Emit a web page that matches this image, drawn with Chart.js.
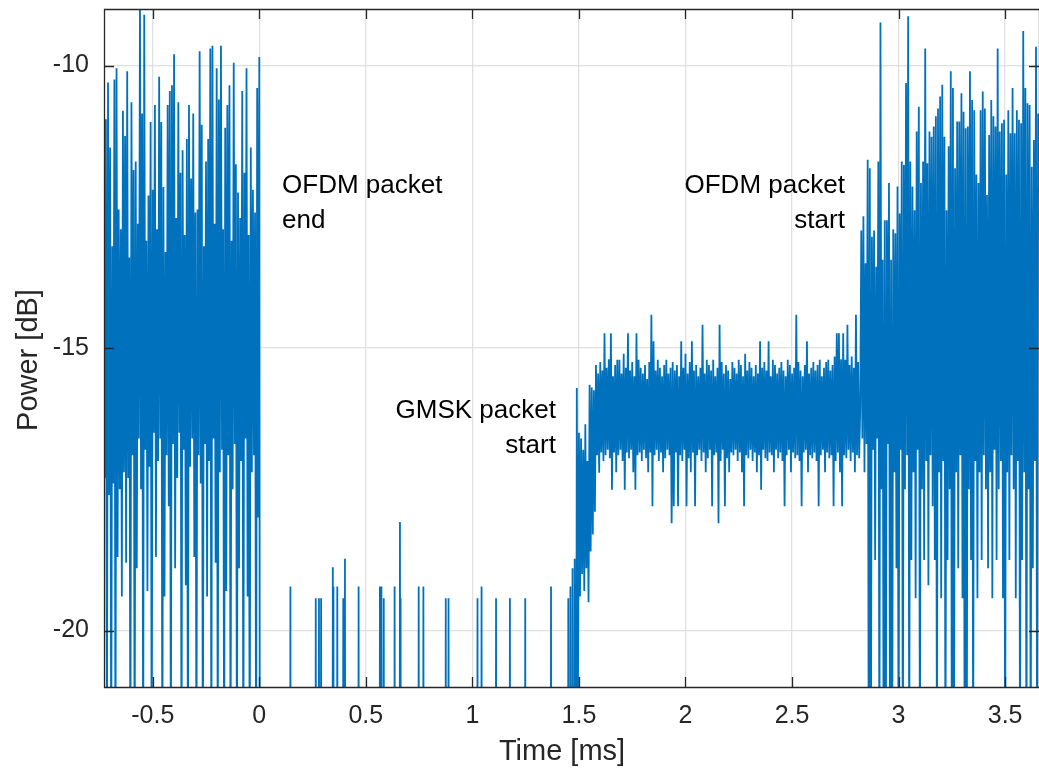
<!DOCTYPE html>
<html>
<head>
<meta charset="utf-8">
<title>Power vs time</title>
<script src="https://cdn.jsdelivr.net/npm/chart.js@4.4.1/dist/chart.umd.min.js"></script>
<style>
  html, body { margin: 0; padding: 0; background: #fff; }
  canvas { display: block; }
</style>
</head>
<body>
<canvas id="powerChart" width="1039" height="770"></canvas>
<script>
// sample period of the capture (ms)
const sampleStep = 0.005;

// tail of the previous OFDM packet, last sample at t = 0
const ofdmEndDb = [
  -17.3, -10.95, -23, -10.3, -17.6, -11.45, -23, -13.2, -17.4, -10.25, -23, -10.05,
  -18.7, -12.55, -17.5, -12.9, -19.4, -10.8, -17.2, -11.25, -18.8, -10.1, -17.3, -13.4,
  -23, -10.65, -16.9, -11.85, -23, -11.7, -18.9, -12.8, -16.6, -8.9, -17.5, -10.85,
  -23, -9.1, -16.8, -13.1, -19.3, -12.3, -17.1, -11.0, -23, -12.2, -16.5, -10.7,
  -18.7, -12.9, -17.0, -10.2, -16.6, -11.0, -23, -12.15, -19.4, -13.3, -16.9, -10.7,
  -17.8, -10.45, -23, -10.35, -16.7, -9.8, -18.9, -12.7, -17.3, -10.65, -16.5, -11.9,
  -23, -11.5, -16.8, -13.0, -19.2, -11.3, -23, -10.7, -17.1, -12.0, -16.6, -10.85,
  -18.7, -12.6, -23, -12.55, -16.9, -9.75, -17.4, -11.05, -23, -13.2, -16.7, -11.7,
  -19.4, -11.3, -17.0, -9.7, -23, -9.65, -16.6, -12.8, -18.8, -10.05, -23, -10.6,
  -17.2, -9.65, -16.8, -12.9, -23, -11.1, -19.3, -10.7, -16.9, -10.35, -23, -13.1,
  -17.5, -9.95, -16.7, -11.75, -23, -12.25, -18.9, -12.7, -17.0, -10.45, -23, -11.9,
  -16.6, -10.05, -19.4, -13.0, -23, -11.45, -17.2, -12.2, -16.9, -12.6, -23, -10.4,
  -18.0, -9.85
];

// quiet part between packets: single samples above the noise floor
const noiseFloorDb = -40;
const quietTimes = [
  0.146, 0.265, 0.280, 0.290, 0.345, 0.348, 0.366, 0.394, 0.402, 0.466, 0.566, 0.573, 0.584,
  0.635, 0.660, 0.663, 0.748, 0.770, 0.875, 0.888, 1.024, 1.043, 1.111, 1.176, 1.248, 1.369
];
const quietDb = [
  -19.22, -19.43, -19.43, -19.43, -18.88, -19.22, -19.22, -19.43, -18.73, -19.22, -19.22, -19.22, -19.43,
  -19.22, -18.08, -19.43, -19.22, -19.22, -19.43, -19.43, -19.43, -19.22, -19.43, -19.43, -19.43, -19.22
];

// GMSK packet: ramp-up then body
const gmskStartTime = 1.445;
const gmskDb = [
  -40, -19.43, -40, -19.22, -40, -18.9, -40, -18.73, -30, -15.71, -21.5, -16.5, -19.4, -16.6,
  -19.0, -16.8, -19.3, -16.35, -18.9, -17.0, -19.5, -15.65, -18.6, -15.7, -18.3, -15.75, -17.9,
  -15.3, -16.9, -15.45, -17.21, -15.25, -16.85, -15.4, -17.0, -14.74, -16.9, -15.35, -16.8,
  -15.2, -16.95, -14.74, -17.51, -15.5, -16.85, -15.3, -17.2, -15.21, -16.9, -15.21, -16.8,
  -15.45, -17.0, -15.1, -17.51, -15.35, -16.85, -14.74, -16.95, -15.4, -16.8, -15.25, -17.2,
  -15.5, -17.51, -14.74, -16.9, -15.21, -16.85, -15.35, -17.0, -15.45, -16.8, -15.3, -16.95,
  -15.55, -17.2, -15.25, -16.85, -14.41, -17.8, -14.88, -16.9, -15.4, -16.8, -15.21, -17.0,
  -15.35, -16.85, -15.5, -17.2, -15.3, -16.95, -15.21, -16.8, -15.45, -16.9, -15.35, -18.1,
  -15.25, -17.8, -15.4, -16.85, -15.3, -17.8, -15.5, -16.9, -14.88, -17.0, -15.35, -16.8,
  -15.1, -17.8, -15.45, -16.95, -15.25, -17.2, -14.88, -16.85, -15.4, -17.8, -15.3, -16.9,
  -15.5, -16.8, -15.35, -17.0, -14.59, -16.85, -15.45, -17.2, -15.21, -16.95, -15.3, -16.8,
  -15.4, -17.8, -15.21, -16.9, -15.5, -16.85, -15.35, -18.1, -14.59, -17.0, -15.25, -16.8,
  -15.45, -17.8, -15.3, -16.95, -15.4, -17.2, -15.55, -16.85, -15.25, -16.9, -15.35, -16.8,
  -15.45, -17.0, -15.21, -16.85, -15.3, -17.2, -15.5, -17.8, -15.1, -16.9, -15.4, -16.95,
  -15.25, -16.8, -15.35, -17.0, -15.5, -16.85, -15.3, -17.2, -15.45, -16.9, -14.88, -17.51,
  -15.35, -16.8, -15.25, -16.95, -15.4, -17.0, -14.88, -16.85, -15.5, -16.9, -15.21, -17.2,
  -15.3, -16.8, -15.45, -16.95, -15.35, -16.85, -15.25, -17.0, -15.4, -17.8, -15.5, -16.9,
  -15.21, -16.8, -15.3, -17.2, -15.45, -16.85, -15.35, -16.95, -14.41, -16.9, -15.25, -17.0,
  -15.4, -17.8, -15.5, -16.85, -15.3, -16.8, -14.88, -17.2, -15.45, -16.9, -15.35, -16.95,
  -15.25, -16.85, -15.4, -17.0, -15.3, -17.8, -15.21, -16.9, -15.5, -16.8, -15.35, -17.2,
  -15.25, -16.85, -15.21, -16.95, -15.4, -16.9, -15.3, -17.8, -15.15, -17.0, -14.74, -16.85,
  -14.74, -17.2, -15.2, -17.8, -14.74, -16.9, -15.21, -16.95, -14.59, -16.8, -15.3, -17.0,
  -15.15, -16.85, -15.35, -17.2, -14.41, -16.9, -15.25, -16.95
];

// start of the next OFDM packet
const ofdmStartTime = 2.82;
const ofdmStartDb = [
  -16.1, -12.92, -16.6, -12.67, -17.2, -13.5, -16.7, -11.67, -23, -11.82, -23, -13.03,
  -16.8, -12.92, -18.75, -13.56, -16.6, -11.7, -23, -9.24, -17.5, -13.44, -23, -12.74,
  -23, -12.74, -16.7, -12.08, -23, -13.44, -23, -12.9, -17.2, -12.97, -18.9, -12.14,
  -23, -12.62, -16.8, -11.7, -23, -11.76, -17.5, -10.31, -16.9, -9.13, -23, -11.7,
  -18.75, -12.14, -17.2, -12.56, -19.43, -11.17, -16.8, -10.73, -23, -12.08, -17.5, -11.7,
  -18.75, -9.7, -17.0, -11.73, -19.2, -11.17, -16.9, -11.26, -17.8, -11.08, -18.75, -10.9,
  -23, -10.76, -17.2, -10.55, -19.43, -10.34, -17.0, -11.26, -23, -12.56, -18.75, -11.43,
  -17.5, -10.1, -23, -10.4, -23, -11.82, -17.2, -10.99, -18.9, -10.99, -16.9, -10.49,
  -19.43, -10.82, -23, -11.11, -23, -11.08, -17.5, -10.1, -18.75, -10.61, -23, -10.79,
  -17.0, -11.93, -19.43, -12.08, -17.2, -10.79, -18.75, -10.46, -16.9, -10.76, -17.5, -12.29,
  -18.9, -11.23, -17.2, -10.61, -19.43, -10.9, -16.8, -11.08, -18.75, -9.7, -17.5, -11.17,
  -17.0, -11.02, -19.43, -10.96, -23, -11.93, -17.2, -10.79, -18.75, -11.2, -16.9, -10.4,
  -17.5, -11.2, -19.43, -10.79, -17.0, -10.96, -23, -11.02, -18.75, -9.39, -17.2, -10.4,
  -23, -10.67, -17.5, -10.7, -23, -11.79, -18.9, -11.32, -17.0, -9.67, -23, -10.85
];

const xTicks = [-0.5, 0, 0.5, 1, 1.5, 2, 2.5, 3, 3.5];
const yTicks = [-20, -15, -10];

const notes = [
  { lines: ["OFDM packet", "end"], x: 0.107, y: -12.25, align: "left" },
  { lines: ["GMSK packet", "start"], x: 1.392, y: -16.24, align: "right" },
  { lines: ["OFDM packet", "start"], x: 2.748, y: -12.25, align: "right" },
];

const fontFamily = '"Liberation Sans", Arial, Helvetica, sans-serif';
const axisColor = "#262626";

// put every segment on one time axis
const points = [];
ofdmEndDb.forEach((v, i) => {
  points.push({ x: -(ofdmEndDb.length - 1 - i) * sampleStep, y: v });
});
points.push({ x: sampleStep, y: noiseFloorDb });
quietTimes.forEach((t, i) => {
  points.push({ x: t - sampleStep, y: noiseFloorDb });
  points.push({ x: t, y: quietDb[i] });
  points.push({ x: t + sampleStep, y: noiseFloorDb });
});
gmskDb.forEach((v, i) => points.push({ x: gmskStartTime + i * sampleStep, y: v }));
ofdmStartDb.forEach((v, i) => points.push({ x: ofdmStartTime + i * sampleStep, y: v }));

// box, inward ticks, axis titles and the text notes
const framePlugin = {
  id: "frame",
  afterDraw(chart) {
    const { ctx, chartArea: a } = chart;
    const xs = chart.scales.x;
    const ys = chart.scales.y;
    ctx.save();
    ctx.strokeStyle = axisColor;
    ctx.lineWidth = 1.3;
    ctx.beginPath();
    ctx.rect(a.left + 0.5, a.top + 0.5, a.right - a.left, a.bottom - a.top);
    xTicks.forEach((v) => {
      const px = Math.round(xs.getPixelForValue(v)) + 0.5;
      ctx.moveTo(px, a.bottom);
      ctx.lineTo(px, a.bottom - 10);
      ctx.moveTo(px, a.top);
      ctx.lineTo(px, a.top + 10);
    });
    yTicks.forEach((v) => {
      const py = Math.round(ys.getPixelForValue(v)) + 0.5;
      ctx.moveTo(a.left, py);
      ctx.lineTo(a.left + 10, py);
      ctx.moveTo(a.right, py);
      ctx.lineTo(a.right - 10, py);
    });
    ctx.stroke();

    ctx.fillStyle = axisColor;
    ctx.font = "29px " + fontFamily;
    ctx.textAlign = "center";
    ctx.textBaseline = "alphabetic";
    ctx.fillText("Time [ms]", 562, 760);
    ctx.save();
    ctx.translate(37, 360);
    ctx.rotate(-Math.PI / 2);
    ctx.fillText("Power [dB]", 0, 0);
    ctx.restore();

    ctx.fillStyle = "#000";
    ctx.font = "26px " + fontFamily;
    notes.forEach((n) => {
      ctx.textAlign = n.align;
      const px = xs.getPixelForValue(n.x);
      const py = ys.getPixelForValue(n.y);
      n.lines.forEach((line, k) => ctx.fillText(line, px, py + k * 35));
    });
    ctx.restore();
  },
};

new Chart(document.getElementById("powerChart"), {
  type: "line",
  data: {
    datasets: [
      {
        data: points,
        borderColor: "#0072BD",
        borderWidth: 1.8,
        pointRadius: 0,
        tension: 0,
        fill: false,
      },
    ],
  },
  options: {
    responsive: false,
    animation: false,
    events: [],
    layout: { padding: { top: 9, right: 0, bottom: 0, left: 0 } },
    plugins: { legend: { display: false }, tooltip: { enabled: false } },
    scales: {
      x: {
        type: "linear",
        min: -0.7288,
        max: 3.659,
        afterBuildTicks: (scale) => {
          scale.ticks = xTicks.map((v) => ({ value: v }));
        },
        afterFit: (scale) => {
          scale.height = 83;
          scale.paddingLeft = 0;
          scale.paddingRight = 0;
        },
        ticks: {
          color: axisColor,
          font: { family: fontFamily, size: 25 },
          padding: 14,
          maxRotation: 0,
          callback: (v) => String(v),
        },
        grid: { color: "#e0e0e0", lineWidth: 1.3, drawTicks: false },
        border: { display: false },
      },
      y: {
        min: -21,
        max: -9,
        afterBuildTicks: (scale) => {
          scale.ticks = yTicks.map((v) => ({ value: v }));
        },
        afterFit: (scale) => {
          scale.width = 104;
          scale.paddingTop = 0;
          scale.paddingBottom = 0;
        },
        ticks: {
          color: axisColor,
          font: { family: fontFamily, size: 25 },
          padding: 15,
          callback: (v) => String(v),
        },
        grid: { color: "#e0e0e0", lineWidth: 1.3, drawTicks: false },
        border: { display: false },
      },
    },
  },
  plugins: [framePlugin],
});
</script>
</body>
</html>
